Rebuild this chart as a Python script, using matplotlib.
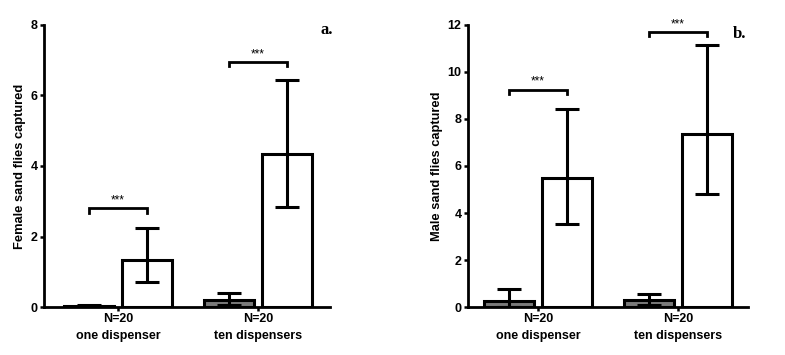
import matplotlib.pyplot as plt
import numpy as np

plt.rcParams['font.family'] = ['Liberation Sans', 'DejaVu Sans']
plt.rcParams['font.weight'] = 'bold'

groups = ["N=20\none dispenser", "N=20\nten dispensers"]

# female captures (panel a)
fem_ctrl = [0.03, 0.2]
fem_ctrl_lo = [0.0, 0.06]
fem_ctrl_hi = [0.07, 0.39]
fem_trap = [1.33, 4.34]
fem_trap_lo = [0.72, 2.85]
fem_trap_hi = [2.25, 6.44]
fem_sig = [2.8, 6.95]

# male captures (panel b)
male_ctrl = [0.27, 0.3]
male_ctrl_lo = [0.02, 0.08]
male_ctrl_hi = [0.75, 0.54]
male_trap = [5.47, 7.38]
male_trap_lo = [3.52, 4.8]
male_trap_hi = [8.42, 11.15]
male_sig = [9.25, 11.7]

fig = plt.figure(figsize=(7.85, 3.55), dpi=100)
ax1 = fig.add_axes([0.056, 0.135, 0.364, 0.795])
ax2 = fig.add_axes([0.596, 0.135, 0.357, 0.795])

off = 0.207
bw = 0.357
lw = 2.2
fs = 9


def panel(ax, ctrl, clo, chi, trap, tlo, thi, sig, ymax, ystep, ylab, tag, tagpos, xlim, brk):
    x = np.arange(len(groups))
    ctrl = np.array(ctrl)
    trap = np.array(trap)
    ax.bar(x - off, ctrl, bw, color='#7a7a7a', edgecolor='black', linewidth=lw, zorder=2)
    ax.bar(x + off, trap, bw, color='white', edgecolor='black', linewidth=lw, zorder=2)
    ax.errorbar(x - off, ctrl, yerr=[ctrl - np.array(clo), np.array(chi) - ctrl],
                fmt='none', ecolor='black', elinewidth=lw, capsize=8.6, capthick=lw, zorder=3)
    ax.errorbar(x + off, trap, yerr=[trap - np.array(tlo), np.array(thi) - trap],
                fmt='none', ecolor='black', elinewidth=lw, capsize=8.6, capthick=lw, zorder=3)
    # significance brackets
    for i, y in enumerate(sig):
        ax.plot([i - off, i - off, i + off, i + off], [y - brk, y, y, y - brk],
                color='black', lw=2, solid_joinstyle='miter', clip_on=False)
        ax.text(i, y + brk * 0.4, "***", ha='center', va='bottom', fontsize=8.5, fontweight='normal')
    ax.set_xlim(*xlim)
    ax.set_ylim(0, ymax)
    ax.set_yticks(np.arange(0, ymax + 0.1, ystep))
    ax.set_xticks(x)
    ax.set_xticklabels(groups, fontsize=fs, fontweight='bold', linespacing=1.55)
    ax.set_ylabel(ylab, fontsize=9.3, fontweight='bold', labelpad=3)
    ax.tick_params(axis='both', direction='out', width=1.8, length=3, pad=1.5, labelsize=fs)
    for s in ['top', 'right']:
        ax.spines[s].set_visible(False)
    for s in ['left', 'bottom']:
        ax.spines[s].set_linewidth(2)
    ax.text(tagpos[0], tagpos[1], tag, transform=ax.transAxes, ha='right', va='top',
            fontsize=12, fontweight='bold', family='Liberation Serif')


panel(ax1, fem_ctrl, fem_ctrl_lo, fem_ctrl_hi, fem_trap, fem_trap_lo, fem_trap_hi,
      fem_sig, 8, 2, "Female sand flies captured", "a.", (1.01, 1.01), (-0.53, 1.514), 0.12)
panel(ax2, male_ctrl, male_ctrl_lo, male_ctrl_hi, male_trap, male_trap_lo, male_trap_hi,
      male_sig, 12, 2, "Male sand flies captured", "b.", (0.995, 0.995), (-0.5, 1.5), 0.18)

fig.savefig("out.png", dpi=100)
